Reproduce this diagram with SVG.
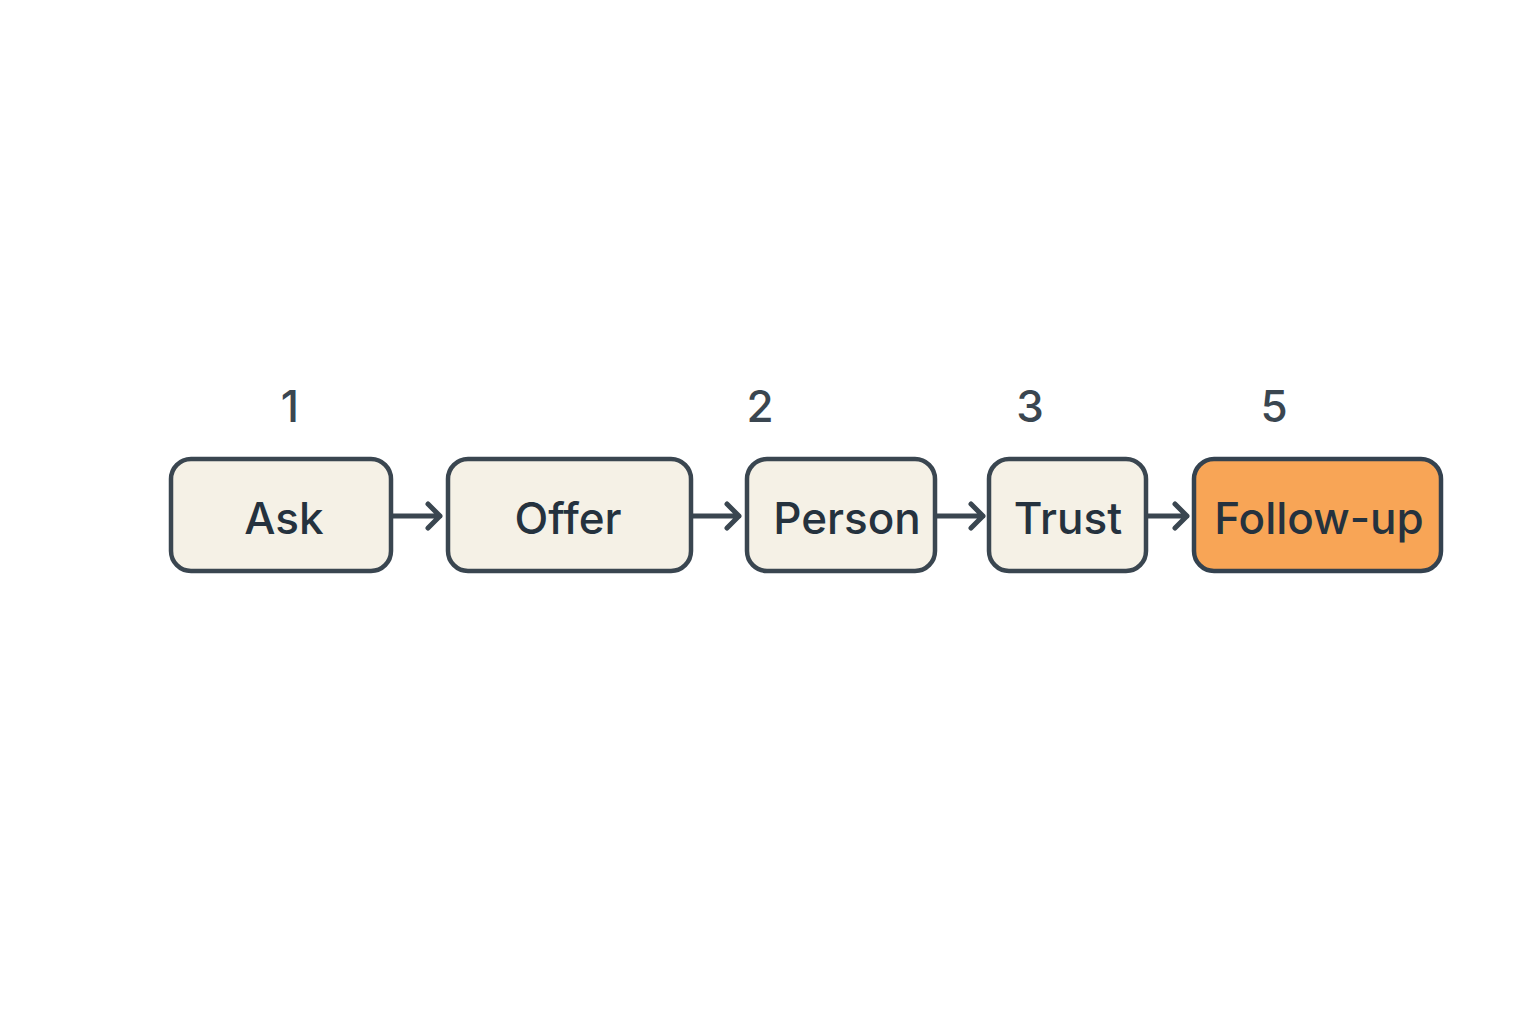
<svg xmlns="http://www.w3.org/2000/svg" width="1536" height="1024" viewBox="0 0 1536 1024">
<defs>
<style>
.box{fill:#f5f1e6;stroke:#3a4650;stroke-width:4.5}
.hl{fill:#f8a556;stroke:#34424f;stroke-width:4.5}
.lbl{font-family:Inter,"Liberation Sans",sans-serif;font-size:44px;font-weight:500;fill:#25323e;text-anchor:middle}
.num{font-family:Inter,"Liberation Sans",sans-serif;font-size:44px;font-weight:500;fill:#3a4650;text-anchor:middle}
.con{stroke:#3a4650;stroke-width:5;fill:none;stroke-linecap:round;stroke-linejoin:round}
</style>
</defs>
<rect width="1536" height="1024" fill="#ffffff"/>
<g id="numbers">
<text class="num" x="290" y="422">1</text>
<text class="num" x="760" y="422">2</text>
<text class="num" x="1030" y="422">3</text>
<text class="num" x="1274" y="422">5</text>
</g>
<g id="connectors">
<path class="con" d="M393 516H440M428 504L440 516L428 528"/>
<path class="con" d="M693 516H739M727 504L739 516L727 528"/>
<path class="con" d="M937 516H983M971 504L983 516L971 528"/>
<path class="con" d="M1148 516H1187M1175 504L1187 516L1175 528"/>
</g>
<g id="ask"><rect class="box" x="171" y="459" width="220" height="112" rx="20"/><text class="lbl" x="284" y="534">Ask</text></g>
<g id="offer"><rect class="box" x="448" y="459" width="243" height="112" rx="20"/><text class="lbl" x="568" y="534">Offer</text></g>
<g id="person"><rect class="box" x="747" y="459" width="188" height="112" rx="20"/><text class="lbl" x="847" y="534">Person</text></g>
<g id="trust"><rect class="box" x="989" y="459" width="157" height="112" rx="20"/><text class="lbl" x="1068" y="534">Trust</text></g>
<g id="followup"><rect class="hl" x="1194" y="459" width="247" height="112" rx="20"/><text class="lbl" x="1319" y="534">Follow-up</text></g>
</svg>
